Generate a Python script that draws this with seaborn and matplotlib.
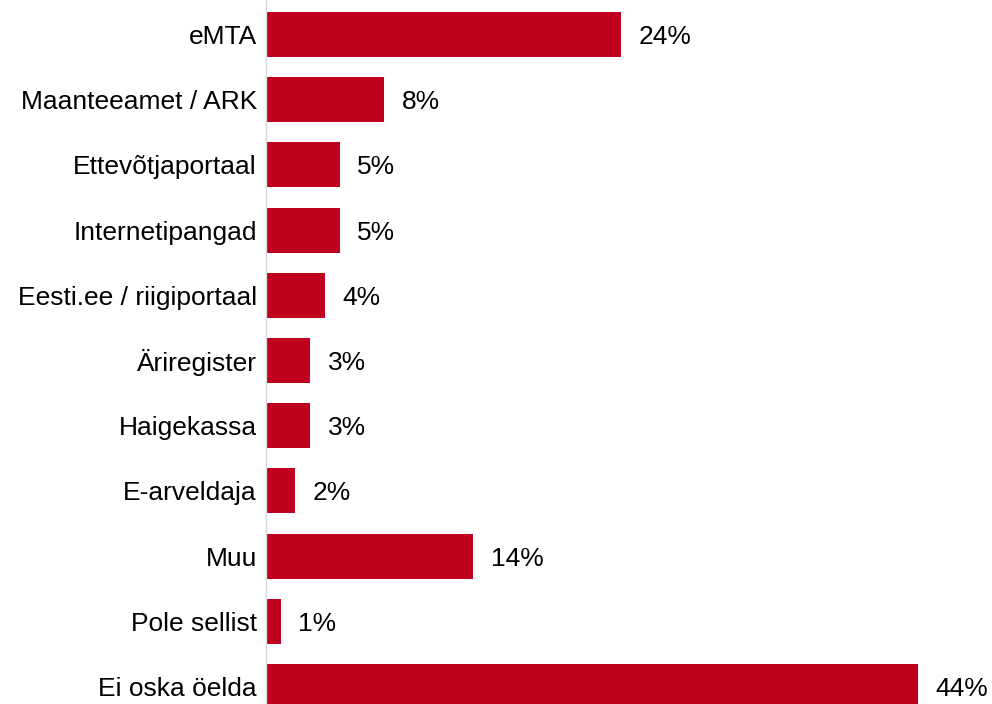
import matplotlib

matplotlib.use("Agg")
import matplotlib.pyplot as plt
import pandas as pd
import seaborn as sns

categories = [
    "eMTA",
    "Maanteeamet / ARK",
    "Ettevõtjaportaal",
    "Internetipangad",
    "Eesti.ee / riigiportaal",
    "Äriregister",
    "Haigekassa",
    "E-arveldaja",
    "Muu",
    "Pole sellist",
    "Ei oska öelda",
]
shares = [24, 8, 5, 5, 4, 3, 3, 2, 14, 1, 44]

BAR_COLOR = "#C0001F"

sns.set_style("white")
plt.rcParams["font.family"] = ["Liberation Sans", "DejaVu Sans"]

df = pd.DataFrame({"category": categories, "share": shares})

fig = plt.figure(figsize=(9.92, 7.04), dpi=100)
ax = fig.add_axes([0.268, 0.0, 0.657, 1.0])
sns.barplot(
    data=df, x="share", y="category", orient="h",
    color=BAR_COLOR, saturation=1, width=0.69, linewidth=0, ax=ax,
)

for i, v in enumerate(shares):
    ax.annotate(f"{v}%", (v, i), xytext=(12.5, 0), textcoords="offset points",
                va="center_baseline", ha="left", fontsize=19, color="black")

ax.set_xlim(0, 44)
ax.set_ylim(10.27, -0.529)
ax.set_xlabel("")
ax.set_ylabel("")
ax.set_xticks([])
ax.tick_params(axis="y", length=0, pad=6.5, labelsize=19, labelcolor="black")
for side in ["top", "right", "bottom"]:
    ax.spines[side].set_visible(False)
ax.spines["left"].set_color("#d9d9d9")
ax.spines["left"].set_linewidth(1.0)

fig.savefig("out.png", dpi=100)
plt.close(fig)
